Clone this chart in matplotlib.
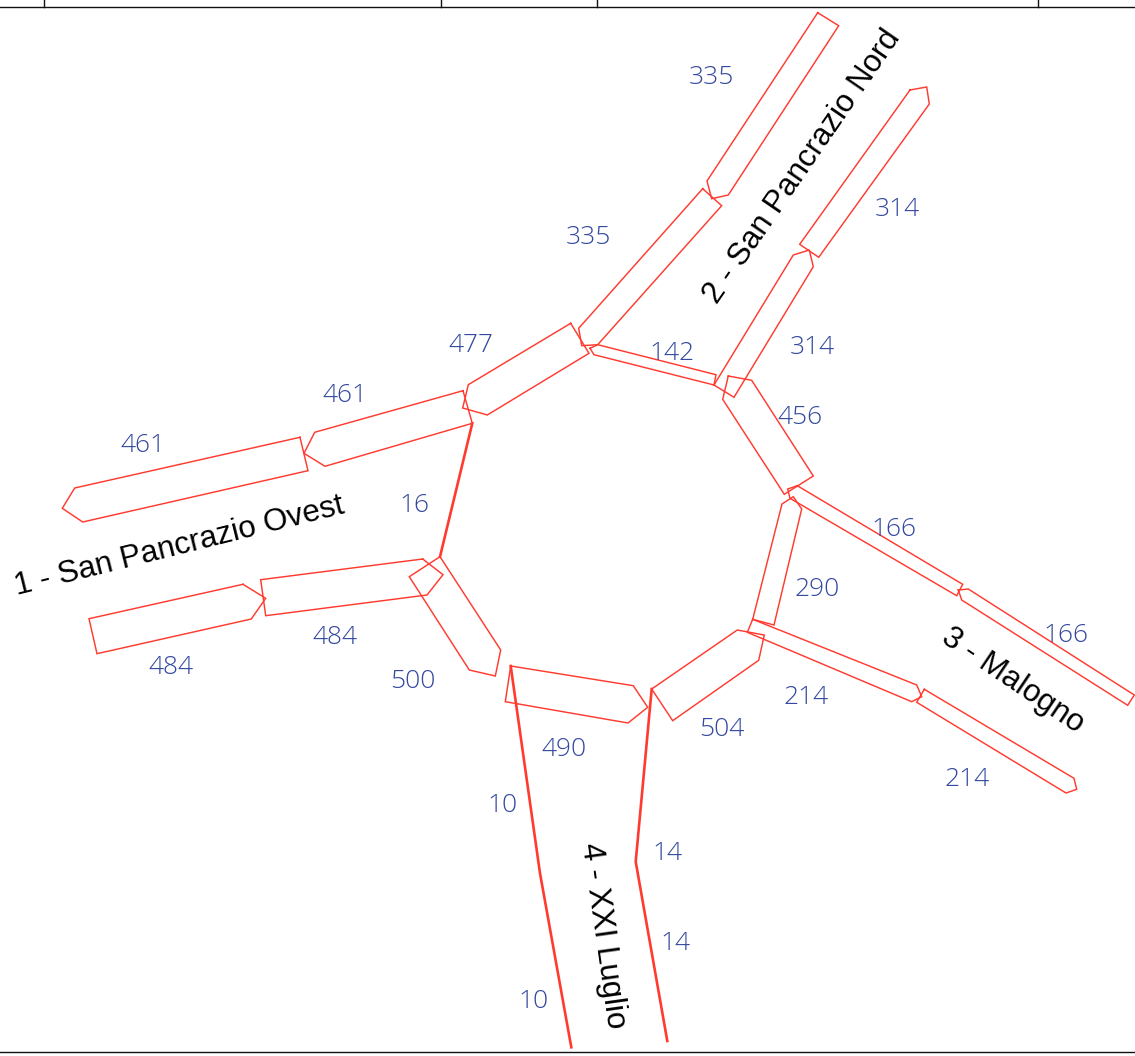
import matplotlib
matplotlib.use('Agg')
import matplotlib.pyplot as plt

# Lane outlines in pixel units
lane_335_upper = [(817.7, 12.7), (838.7, 25.7), (728.3, 195), (711.7, 198.7), (707, 181)]
lane_335_lower = [(702.7, 188.7), (721.7, 205.7), (597.7, 344.7), (581.7, 345.7), (578.7, 328.3)]
lane_314_upper = [(910, 90), (926.7, 87), (929.3, 104), (818.7, 257.3), (799.7, 244.3)]
lane_314_lower = [(714, 385), (793.3, 255), (809.3, 250), (813.3, 266.7), (734, 397.3)]
lane_142 = [(590, 348.3), (597.7, 344.7), (716, 374.7), (714, 385), (594, 354.7)]
lane_477 = [(570.7, 323.3), (589, 353.3), (487.3, 415), (462.7, 408), (468.3, 384.7)]
lane_461_right = [(463, 390.7), (472.3, 423.3), (325, 466.3), (304, 453.3), (314.7, 432.3)]
lane_461_left = [(300, 437.3), (308, 470.7), (82.7, 522), (62.3, 508.3), (74.7, 488)]
lane_456 = [(728.3, 376), (751.7, 380.3), (813.3, 476), (784.3, 494.3), (722.7, 399.3)]
lane_166_left = [(797.3, 485.7), (962.7, 584.3), (956.7, 595.7), (790, 498.3), (787.7, 489)]
lane_166_right = [(958.3, 590), (968.3, 589), (1134.3, 695), (1127.7, 705.3), (961.7, 600)]
lane_290 = [(752.7, 619.3), (782, 504), (793.3, 496.7), (801.7, 509), (774, 625)]
lane_214_left = [(752.7, 619.3), (916.7, 685), (921.7, 696.7), (911.7, 701.7), (747.3, 632.3)]
lane_214_right = [(924.3, 689.3), (1074, 778.3), (1076.7, 789.3), (1066, 793), (916.7, 702.3)]
lane_504 = [(651.7, 689), (737.3, 630), (764.3, 635), (758.7, 660.3), (672.7, 720.7)]
lane_490 = [(510.7, 666), (633.3, 685.7), (647.7, 707.3), (628, 723), (505.3, 701.7)]
lane_500 = [(440, 556.7), (500.7, 650), (495.3, 676), (469.3, 670), (409.3, 576.7)]
lane_484_right = [(422.7, 559), (443, 574.7), (427, 595), (265.7, 615.7), (260.7, 579.7)]
lane_484_left = [(243, 584.3), (265.7, 598.3), (251.3, 619), (97, 653.7), (89, 618.7)]

lanes = [lane_335_upper, lane_335_lower, lane_314_upper, lane_314_lower, lane_142,
         lane_477, lane_461_right, lane_461_left, lane_456, lane_166_left,
         lane_166_right, lane_290, lane_214_left, lane_214_right, lane_504,
         lane_490, lane_500, lane_484_right, lane_484_left]

# Thick narrow lanes
thick_16 = [(472.3, 423.3), (440, 556.7)]
thick_10 = [(510.7, 666), (540, 873.3), (571.3, 1047.3)]
thick_14 = [(651.7, 689), (635.7, 861.7), (667.3, 1041)]

# Lane width labels
width_labels = ['335', '335', '314', '314', '142', '477', '461', '461', '456', '16', '166', '166',
                '290', '484', '484', '500', '490', '504', '214', '214', '10', '10', '14', '14']
width_x = [711, 588, 897, 812, 672, 471, 345, 143, 800, 414, 894, 1066,
           817, 335, 171, 413, 564, 722, 806, 967, 503, 534, 667, 675]
width_y = [74, 234, 207, 344, 351, 342, 393, 443, 414, 502, 526, 632,
           587, 635, 664, 678, 747, 726, 695, 777, 803, 998, 850, 941]

# Road names
road_names = ['1 - San Pancrazio Ovest', '2 - San Pancrazio Nord', '3 - Malogno', '4 - XXI Luglio']
road_x = [179, 802, 1013, 603]
road_y = [546, 167, 681, 936]
road_angle = [14, 55.5, -34, -82]

# Frame of the sheet
top_line_y = 7
bottom_line_y = 1052
top_ticks_x = [44, 441, 597, 1038]

fig = plt.figure(figsize=(11.35, 10.56), dpi=100)
ax = fig.add_axes([0, 0, 1, 1])
ax.set_xlim(0, 1135)
ax.set_ylim(1056, 0)
ax.axis('off')

red = '#ff3b30'
for lane in lanes:
    xs = [p[0] for p in lane] + [lane[0][0]]
    ys = [p[1] for p in lane] + [lane[0][1]]
    ax.plot(xs, ys, color=red, lw=1.05, solid_joinstyle='miter')

for line in [thick_16, thick_10, thick_14]:
    ax.plot([p[0] for p in line], [p[1] for p in line], color=red, lw=1.9)

ax.axhline(top_line_y, color='#111111', lw=1)
ax.axhline(bottom_line_y, color='#111111', lw=1)
for x in top_ticks_x:
    ax.plot([x, x], [0, top_line_y], color='#111111', lw=1)

for label, x, y in zip(width_labels, width_x, width_y):
    ax.text(x, y, label, color='#33489f', fontsize=19, family='Open Sans', fontweight='light',
            ha='center', va='center_baseline')

for name, x, y, angle in zip(road_names, road_x, road_y, road_angle):
    ax.text(x, y, name, color='black', fontsize=22.5, family='Liberation Sans',
            rotation=angle, rotation_mode='anchor', ha='center', va='center')

fig.savefig('out.png', dpi=100)
